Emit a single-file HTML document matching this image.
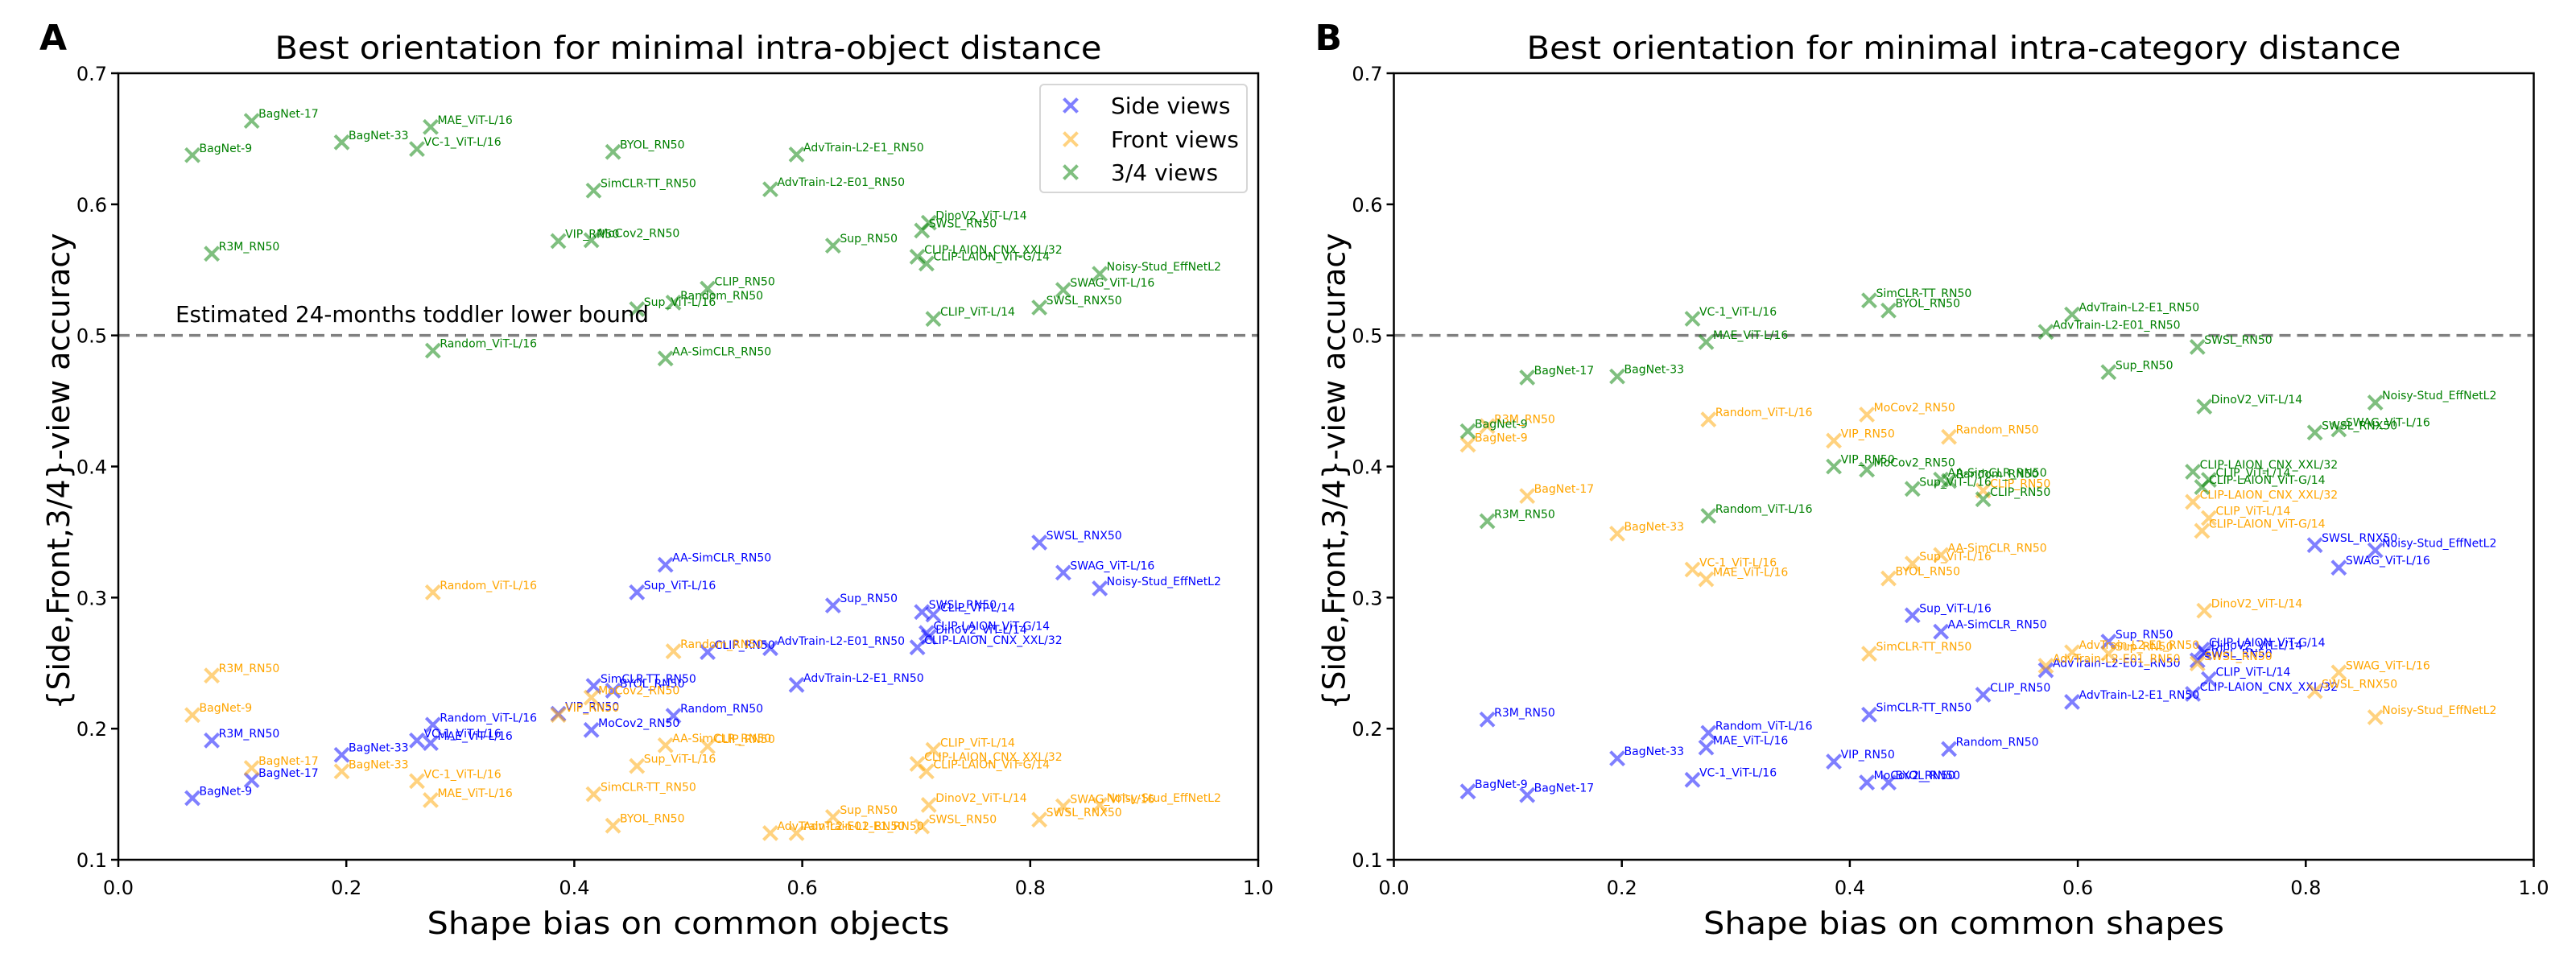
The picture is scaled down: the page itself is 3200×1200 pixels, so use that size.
<!DOCTYPE html>
<html><head><meta charset="utf-8">
<style>
html,body{margin:0;padding:0;background:#fff;}
svg{display:block;font-family:"DejaVu Sans","Liberation Sans",sans-serif;}
</style></head>
<body>
<svg id="chart" xmlns="http://www.w3.org/2000/svg" width="3200" height="1200" viewBox="0 0 3200 1200">
<rect x="0" y="0" width="3200" height="1200" fill="#fff"/>
</svg>
<script>
const models = ["BagNet-9","BagNet-17","BagNet-33","R3M_RN50","VIP_RN50","MoCov2_RN50","SimCLR-TT_RN50","BYOL_RN50","AA-SimCLR_RN50","Random_RN50","Random_ViT-L/16","VC-1_ViT-L/16","MAE_ViT-L/16","Sup_ViT-L/16","Sup_RN50","CLIP_RN50","CLIP_ViT-L/14","CLIP-LAION_CNX_XXL/32","CLIP-LAION_ViT-G/14","DinoV2_ViT-L/14","SWSL_RN50","SWSL_RNX50","SWAG_ViT-L/16","Noisy-Stud_EffNetL2","AdvTrain-L2-E1_RN50","AdvTrain-L2-E01_RN50"];
const shapeBiasObjects = [0.065,0.117,0.196,0.082,0.386,0.415,0.417,0.434,0.480,0.487,0.276,0.262,0.274,0.455,0.627,0.517,0.715,0.701,0.709,0.711,0.705,0.808,0.829,0.861,0.595,0.572];
const shapeBiasShapes = [0.065,0.117,0.196,0.082,0.386,0.415,0.417,0.434,0.480,0.487,0.276,0.262,0.274,0.455,0.627,0.517,0.715,0.701,0.709,0.711,0.705,0.808,0.829,0.861,0.595,0.572];
const aSide = [0.147,0.1607,0.180,0.191,0.2114,0.199,0.2326,0.229,0.325,0.2098,0.203,0.191,0.189,0.304,0.294,0.2584,0.287,0.262,0.273,0.270,0.289,0.342,0.319,0.307,0.2334,0.2614];
const aFront = [0.2104,0.170,0.1674,0.2405,0.2104,0.2237,0.150,0.126,0.1873,0.259,0.304,0.160,0.1455,0.1715,0.1326,0.1865,0.1838,0.1731,0.1674,0.1418,0.1254,0.1306,0.1408,0.1418,0.1203,0.1203];
const aThreeQuarter = [0.6375,0.6637,0.6473,0.5623,0.572,0.5726,0.6105,0.640,0.4824,0.525,0.4884,0.6422,0.659,0.520,0.5685,0.5357,0.5126,0.560,0.5548,0.586,0.580,0.5213,0.5347,0.547,0.638,0.6115];
const bSide = [0.1521,0.1493,0.1773,0.207,0.1749,0.1589,0.2107,0.1589,0.274,0.1845,0.1968,0.161,0.1856,0.2865,0.2664,0.2259,0.2378,0.2265,0.2603,0.258,0.2521,0.340,0.3228,0.3361,0.2204,0.2446];
const bFront = [0.4166,0.3775,0.3488,0.4308,0.4197,0.4396,0.2572,0.3146,0.3325,0.4226,0.4359,0.3214,0.314,0.3259,0.2572,0.3816,0.3607,0.373,0.3509,0.290,0.2497,0.2286,0.2429,0.2087,0.2583,0.248];
const bThreeQuarter = [0.4269,0.4679,0.4687,0.3583,0.400,0.3976,0.5267,0.519,0.390,0.389,0.3623,0.5127,0.4949,0.3829,0.472,0.375,0.3898,0.396,0.3843,0.4457,0.4912,0.4259,0.4283,0.4488,0.516,0.5027];
const xTicks = [0.0,0.2,0.4,0.6,0.8,1.0];
const xTickLabels = ["0.0","0.2","0.4","0.6","0.8","1.0"];
const yTicks = [0.1,0.2,0.3,0.4,0.5,0.6,0.7];
const yTickLabels = ["0.1","0.2","0.3","0.4","0.5","0.6","0.7"];
const toddlerBound = [0.5];

const NS = "http://www.w3.org/2000/svg";
const svg = document.getElementById('chart');
function mk(tag, attrs, parent){
  const e = document.createElementNS(NS, tag);
  for (const k in attrs) e.setAttribute(k, attrs[k]);
  (parent||svg).appendChild(e);
  return e;
}
const TOP=91, BOT=1068;
function yScale(v){ return BOT - (v-0.1)/0.6*(BOT-TOP); }

function drawX(g, cx, cy, color){
  const s=8.5;
  mk('path',{d:`M${cx-s},${cy-s}L${cx+s},${cy+s}M${cx-s},${cy+s}L${cx+s},${cy-s}`,stroke:color,'stroke-width':4,fill:'none'},g);
}

function panel(opts){
  const L=opts.left, R=L+1416;
  const xScale = v => L + v*(R-L);
  const g = mk('g',{});
  
  
  const dl = mk('line',{x1:L,x2:R,y1:yScale(toddlerBound[0]),y2:yScale(toddlerBound[0]),stroke:'#808080','stroke-width':3.5,'stroke-dasharray':'14,8'},g);
  
  
  const series=[
    {name:'side-views',vals:opts.side,mc:'rgba(0,0,255,0.5)',tc:'#0000ff'},
    {name:'front-views',vals:opts.front,mc:'rgba(255,165,0,0.5)',tc:'#ffa500'},
    {name:'three-quarter-views',vals:opts.tq,mc:'rgba(0,128,0,0.5)',tc:'#008000'}
  ];
  series.forEach(sr=>{
    const sg = mk('g',{},g);
    
    
    sr.vals.forEach((v,i)=>{
      const cx=xScale(opts.xs[i]), cy=yScale(v);
      const pg = mk('g',{},sg);
      
      
      drawX(pg,cx,cy,sr.mc);
      const t = mk('text',{x:cx+8.5,y:cy-4,fill:sr.tc,'font-size':14},pg);
      t.textContent = models[i];
    });
  });
  const fr = mk('rect',{x:L,y:TOP,width:R-L,height:BOT-TOP,fill:'none',stroke:'#000','stroke-width':2.5},g);
  
  
  xTicks.forEach((v,i)=>{
    const x=xScale(v);
    mk('line',{x1:x,x2:x,y1:BOT,y2:BOT+9,stroke:'#000','stroke-width':2.5},g);
    const t=mk('text',{x:x,y:1111,'text-anchor':'middle','font-size':24,fill:'#000'},g);
    
    
    t.textContent=xTickLabels[i];
  });
  yTicks.forEach((v,i)=>{
    const y=yScale(v);
    mk('line',{x1:L-9,x2:L,y1:y,y2:y,stroke:'#000','stroke-width':2.5},g);
    const t=mk('text',{x:L-14,y:y+9,'text-anchor':'end','font-size':24,fill:'#000'},g);
    
    
    t.textContent=yTickLabels[i];
  });
  const cx=(L+R)/2;
  const ti=mk('text',{x:cx,y:73,'text-anchor':'middle','font-size':39,fill:'#000',textLength:opts.titleLen,lengthAdjust:'spacingAndGlyphs'},g);
  
  
  ti.textContent=opts.title;
  const xl=mk('text',{x:cx,y:1160,'text-anchor':'middle','font-size':38,fill:'#000',textLength:opts.xlabLen,lengthAdjust:'spacingAndGlyphs'},g);
  
  
  xl.textContent=opts.xlab;
  const yx=L-61, yy=(TOP+BOT)/2+6;
  const yl=mk('text',{x:yx,y:yy,'text-anchor':'middle','font-size':38,fill:'#000',transform:`rotate(-90 ${yx} ${yy})`,textLength:592,lengthAdjust:'spacingAndGlyphs'},g);
  
  
  yl.textContent='{Side,Front,3/4}-view accuracy';
  const pl=mk('text',{x:L-98,y:62,'font-size':44,'font-weight':'bold',fill:'#000'},g);
  
  
  pl.textContent=opts.letter;
  return {g,L,R};
}

const pA = panel({key:'a',left:147,xs:shapeBiasObjects,side:aSide,front:aFront,tq:aThreeQuarter,
  title:'Best orientation for minimal intra-object distance',titleLen:1027,
  xlab:'Shape bias on common objects',xlabLen:649,letter:'A'});
const pB = panel({key:'b',left:1731.5,xs:shapeBiasShapes,side:bSide,front:bFront,tq:bThreeQuarter,
  title:'Best orientation for minimal intra-category distance',titleLen:1086,
  xlab:'Shape bias on common shapes',xlabLen:647,letter:'B'});

const ann = mk('text',{x:218,y:400,'font-size':28,fill:'#000',textLength:588,lengthAdjust:'spacingAndGlyphs'},pA.g);


ann.textContent='Estimated 24-months toddler lower bound';

const lg = mk('g',{},pA.g);


mk('rect',{x:1292,y:105,width:257,height:134,rx:5,fill:'rgba(255,255,255,0.8)',stroke:'#d6d6d6','stroke-width':2},lg);
const legendItems=[['Side views','rgba(0,0,255,0.5)',131],['Front views','rgba(255,165,0,0.5)',173],['3/4 views','rgba(0,128,0,0.5)',214]];
legendItems.forEach(it=>{
  const eg=mk('g',{},lg);
  
  
  drawX(eg,1330,it[2],it[1]);
  const t=mk('text',{x:1380,y:it[2]+10,'font-size':28,fill:'#000'},eg);
  t.textContent=it[0];
});
</script>
</body></html>
